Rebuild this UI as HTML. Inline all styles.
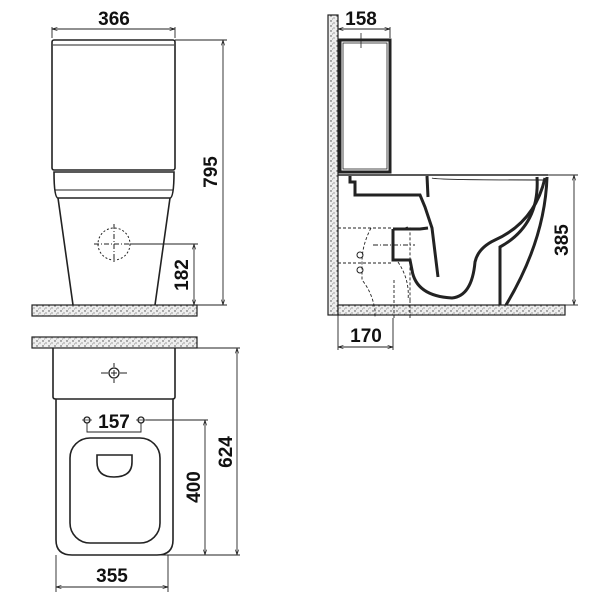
<!DOCTYPE html>
<html><head><meta charset="utf-8"><style>
html,body{margin:0;padding:0;background:#fff}
svg{display:block}
text{font-family:"Liberation Sans Narrow","Liberation Sans",sans-serif;font-weight:bold;font-size:19px;fill:#111}
</style></head><body>
<svg width="600" height="600" viewBox="0 0 600 600" xmlns="http://www.w3.org/2000/svg">
<defs>
<pattern id="sp" width="6" height="5" patternUnits="userSpaceOnUse">
<rect width="6" height="5" fill="#eee"/>
<circle cx="1" cy="1" r="0.7" fill="#444"/><circle cx="4" cy="3" r="0.6" fill="#666"/><circle cx="2.5" cy="4" r="0.4" fill="#333"/>
</pattern>
<marker id="a" viewBox="0 0 10 10" refX="10" refY="5" markerWidth="6" markerHeight="6" orient="auto-start-reverse"><path d="M0,2 L10,5 L0,8" fill="none" stroke="#222" stroke-width="1.2"/></marker>
</defs>
<g fill="none" stroke="#222" stroke-width="1.6">
<!-- FRONT VIEW -->
<rect x="32" y="305" width="165" height="11" fill="url(#sp)" stroke-width="1.2"/>
<rect x="52" y="40" width="123" height="130" rx="2"/>
<line x1="53" y1="45" x2="174" y2="45" stroke-width="1"/>
<path d="M54,172 Q54,198 58,198 L170,198 Q174,198 174,172 Z"/>
<line x1="55" y1="190" x2="173" y2="190" stroke-width="1"/>
<path d="M58,198 L73,305 M170,198 L155,305"/>
<circle cx="114" cy="244" r="16" stroke-dasharray="2,2" stroke-width="1"/>
<path d="M94,244 H134 M114,224 V264" stroke-dasharray="5,2,1,2" stroke-width="1"/>
<g stroke-width="0.9">
<line x1="52" y1="29" x2="175" y2="29" marker-start="url(#a)" marker-end="url(#a)"/>
<line x1="52" y1="27" x2="52" y2="38"/><line x1="175" y1="27" x2="175" y2="38"/>
<line x1="175" y1="40" x2="227" y2="40"/><line x1="197" y1="305" x2="227" y2="305"/>
<line x1="223" y1="40" x2="223" y2="305" marker-start="url(#a)" marker-end="url(#a)"/>
<line x1="130" y1="244" x2="198" y2="244"/>
<line x1="194" y1="244" x2="194" y2="305" marker-start="url(#a)" marker-end="url(#a)"/>
</g>
<!-- SIDE VIEW -->
<rect x="328" y="15" width="10" height="300" fill="url(#sp)" stroke-width="1.2"/>
<rect x="338" y="305" width="227" height="10" fill="url(#sp)" stroke-width="1.2"/>
<rect x="340" y="40" width="50" height="132" stroke-width="3"/>
<rect x="343" y="43" width="44" height="126" stroke-width="0.8"/>
<line x1="361" y1="33" x2="361" y2="48" stroke-width="0.8"/>
<line x1="338" y1="175" x2="548" y2="175" stroke-width="1.4"/>
<g stroke-width="3">
<path d="M350,176 L350,182 L355,182 L355,195 L420,195 L425,207 L432,228 L438,277"/>
<path d="M427,176 L428,197"/>
<path d="M393,229 L420,229 L428,228"/>
<path d="M393,229 L393,260 L410,260 L412,270 Q416,296 452,298 Q472,296 475,262 Q478,248 495,240 Q535,222 545,178"/>
<path d="M537,177 Q540,225 500,247 L500,305"/>
<path d="M547,177 Q545,240 506,305"/>
</g>
<path d="M432,178 Q435,180 545,180" stroke-width="1"/>
<g stroke-width="0.9" stroke-dasharray="3,2">
<path d="M338,228 H393 M338,263 H393"/>
<path d="M371,228 Q362,245 362,262 L362,280 Q372,292 375,310 V318"/>
<path d="M405,228 Q412,225 410,232 V300"/>
<path d="M398,262 Q410,280 408,300"/>
<path d="M394,280 V318 M410,300 V318"/>
</g>
<circle cx="360" cy="255" r="3" stroke-width="1"/><circle cx="360" cy="270" r="3" stroke-width="1"/>
<path d="M373,245 H415" stroke-dasharray="5,2,1,2" stroke-width="0.9"/>
<g stroke-width="0.9">
<line x1="338" y1="29" x2="390" y2="29" marker-start="url(#a)" marker-end="url(#a)"/>
<line x1="390" y1="27" x2="390" y2="38"/>
<line x1="548" y1="175" x2="578" y2="175"/><line x1="565" y1="305" x2="578" y2="305"/>
<line x1="574" y1="175" x2="574" y2="305" marker-start="url(#a)" marker-end="url(#a)"/>
<line x1="338" y1="347" x2="393" y2="347" marker-start="url(#a)" marker-end="url(#a)"/>
<line x1="338" y1="315" x2="338" y2="350"/><line x1="393" y1="318" x2="393" y2="350"/>
</g>
<!-- TOP VIEW -->
<rect x="32" y="337" width="165" height="11" fill="url(#sp)" stroke-width="1.2"/>
<path d="M53,348 L53,397 Q53,399 56,399 L172,399 Q175,399 175,397 L175,348"/>
<path d="M56,399 L56,540 Q56,555 72,555 L157,555 Q173,555 173,540 L173,399"/>
<rect x="70" y="438" width="90" height="105" rx="20"/>
<path d="M97,455 H132 V462 Q132,477 114,477 Q97,477 97,462 Z"/>
<circle cx="114" cy="373" r="5" stroke-width="1.3"/>
<path d="M101,373 H108 M120,373 H127 M114,363 V367 M114,379 V383 M111,373 H117 M114,370 V376" stroke-width="1"/>
<circle cx="87" cy="420" r="3" stroke-width="1.3"/><circle cx="141" cy="420" r="3" stroke-width="1.3"/>
<path d="M82,420 H92 M136,420 H146" stroke-width="0.8"/>
<g stroke-width="0.9">
<path d="M87,423 V432 H141 V423"/>
<line x1="146" y1="420" x2="208" y2="420"/>
<line x1="205" y1="420" x2="205" y2="555" marker-start="url(#a)" marker-end="url(#a)"/>
<line x1="197" y1="348" x2="240" y2="348"/>
<line x1="150" y1="555" x2="240" y2="555"/>
<line x1="237" y1="348" x2="237" y2="555" marker-start="url(#a)" marker-end="url(#a)"/>
<line x1="56" y1="587" x2="168" y2="587" marker-start="url(#a)" marker-end="url(#a)"/>
<line x1="56" y1="555" x2="56" y2="592"/><line x1="168" y1="555" x2="168" y2="592"/>
</g>
</g>
<text x="114" y="25" text-anchor="middle">366</text>
<text transform="translate(217,172) rotate(-90)" text-anchor="middle">795</text>
<text transform="translate(188,275) rotate(-90)" text-anchor="middle">182</text>
<text x="361" y="25" text-anchor="middle">158</text>
<text transform="translate(568,240) rotate(-90)" text-anchor="middle">385</text>
<text x="366" y="342" text-anchor="middle">170</text>
<text x="114" y="428" text-anchor="middle">157</text>
<text transform="translate(200,487) rotate(-90)" text-anchor="middle">400</text>
<text transform="translate(232,452) rotate(-90)" text-anchor="middle">624</text>
<text x="112" y="582" text-anchor="middle">355</text>
</svg>
</body></html>
